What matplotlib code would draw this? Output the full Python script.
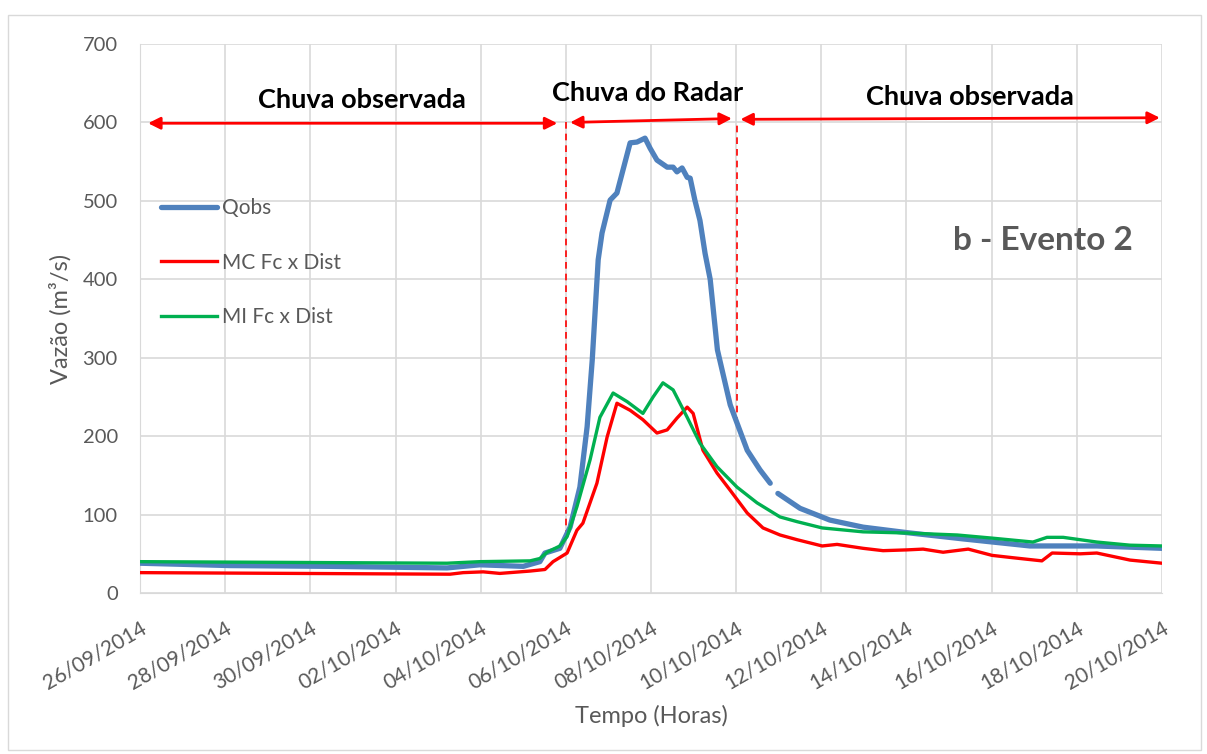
import numpy as np
import pandas as pd
import matplotlib
matplotlib.use('Agg')
import matplotlib.pyplot as plt
import matplotlib.dates as mdates
from matplotlib.patches import Rectangle

plt.rcParams['font.family'] = ['Lato', 'DejaVu Sans']

# data, days counted from 26/09/2014 00:00
start = pd.Timestamp('2014-09-26')

qobs_days = [0, 2.11, 4.46, 7.21, 7.98, 9.0, 9.39, 9.51, 9.86, 10.1, 10.33, 10.5, 10.62,
             10.76, 10.85, 11.04, 11.2, 11.51, 11.67, 11.86, 11.98, 12.14, 12.38, 12.52,
             12.61, 12.73, 12.85, 12.92, 13.03, 13.15, 13.27, 13.39, 13.56, 13.86, 14.26,
             14.56, 14.8, 14.9, 14.98, 15.5, 16.2, 16.98, 18.01, 19.33, 20.9, 22.47, 24.0]
qobs_vals = [38, 35, 34, 32, 36, 34, 40, 51, 57, 84, 135, 212, 297,
             425, 459, 501, 510, 574, 575, 580, 567, 552, 543, 543,
             537, 542, 530, 529, 501, 475, 433, 400, 310, 240, 182,
             157, 140, np.nan, 127, 108, 93, 84, 77, 69, 60, 60, 57]

mc_days = [0, 7.28, 7.59, 8.06, 8.45, 9.16, 9.51, 9.7, 10.03, 10.26, 10.4, 10.73, 10.97,
           11.2, 11.51, 11.81, 12.14, 12.38, 12.61, 12.85, 12.99, 13.22, 13.55, 13.86,
           14.26, 14.63, 15.03, 15.43, 16.02, 16.37, 16.98, 17.45, 18.01, 18.39, 18.86,
           19.45, 20.01, 20.5, 21.18, 21.42, 22.08, 22.47, 23.25, 24.0]
mc_vals = [26, 24, 26, 27, 25, 28, 30, 40, 51, 80, 89, 140, 199,
           242, 233, 221, 204, 208, 223, 237, 229, 182, 153, 131,
           102, 83, 74, 68, 60, 62, 57, 54, 55, 56, 52,
           56, 48, 45, 41, 51, 50, 51, 42, 38]

mi_days = [0, 7.21, 7.98, 9.16, 9.39, 9.56, 9.86, 10.03, 10.26, 10.57, 10.8, 11.11, 11.44,
           11.81, 12.05, 12.28, 12.52, 12.85, 13.15, 13.55, 14.02, 14.49, 15.03, 15.43,
           16.02, 16.98, 18.01, 19.19, 20.01, 20.97, 21.3, 21.68, 22.47, 23.25, 24.0]
mi_vals = [40, 38, 40, 41, 44, 52, 60, 72, 110, 170, 224, 255, 244,
           229, 250, 268, 259, 224, 191, 161, 135, 115, 97, 91,
           83, 78, 76.5, 74, 70, 65, 71, 71, 65, 61, 60]


def to_dates(days):
    return start + pd.to_timedelta(days, unit='D')


fig = plt.figure(figsize=(12.07, 7.54), dpi=100)
ax = fig.add_axes([0.116, 0.2135, 0.8467, 0.7281])
fig.patches.append(Rectangle((0.007, 0.005), 0.988, 0.975, transform=fig.transFigure,
                             fill=False, edgecolor='#d9d9d9', lw=1))

ax.plot(to_dates(qobs_days), qobs_vals, color='#4F81BD', lw=3.8, label='Qobs',
        solid_capstyle='round', zorder=3)
ax.plot(to_dates(mc_days), mc_vals, color='#FF0000', lw=2.4, label='MC Fc x Dist', zorder=4)
ax.plot(to_dates(mi_days), mi_vals, color='#00B050', lw=2.4, label='MI Fc x Dist', zorder=5)

# dashed separators and annotation arrows
ax.plot(to_dates([10.0, 10.0]), [72, 600], color='red', ls=(0, (4, 3)), lw=1.2, zorder=2)
ax.plot(to_dates([14.02, 14.02]), [215, 600], color='red', ls=(0, (4, 3)), lw=1.2, zorder=2)
for (d0, y0, d1, y1) in [(0.19, 599, 9.8, 599), (10.1, 600, 13.9, 605), (14.1, 604, 23.95, 606)]:
    ax.annotate('', xy=(to_dates([d1])[0], y1), xytext=(to_dates([d0])[0], y0),
                arrowprops=dict(arrowstyle='<|-|>', color='red', lw=2,
                                mutation_scale=18, shrinkA=0, shrinkB=0))

ax.text(to_dates([5.21])[0], 629, 'Chuva observada', ha='center', va='center',
        fontsize=19.5, fontweight='bold')
ax.text(to_dates([11.91])[0], 638, 'Chuva do Radar', ha='center', va='center',
        fontsize=19.5, fontweight='bold')
ax.text(to_dates([19.49])[0], 633, 'Chuva observada', ha='center', va='center',
        fontsize=19.5, fontweight='bold')
ax.text(to_dates([21.2])[0], 449, 'b - Evento 2', ha='center', va='center',
        fontsize=24, fontweight='bold', color='#595959')

ax.set_xlim(start, start + pd.Timedelta(days=24))
ax.set_ylim(0, 700)
ax.set_yticks(range(0, 701, 100))
ax.set_xticks(to_dates(list(range(0, 25, 2))))
ax.xaxis.set_major_formatter(mdates.DateFormatter('%d/%m/%Y'))
plt.setp(ax.get_xticklabels(), rotation=30, ha='right', rotation_mode='anchor')
ax.tick_params(axis='both', length=0, labelsize=14.5, colors='#595959')
ax.tick_params(axis='x', pad=18, labelsize=15)
ax.tick_params(axis='y', pad=16)

ax.grid(True, color='#d9d9d9', lw=1.2)
ax.set_axisbelow(True)
for s in ['top', 'right']:
    ax.spines[s].set_visible(False)
ax.spines['left'].set_color('#d9d9d9')
ax.spines['bottom'].set_color('#d9d9d9')

ax.set_xlabel('Tempo (Horas)', fontsize=17, color='#595959')
ax.set_ylabel('Vazão (m³/s)', fontsize=17, color='#595959')
ax.xaxis.set_label_coords(0.5, -0.224)
ax.xaxis.label.set_va('center')
ax.yaxis.set_label_coords(-0.078, 0.5)
ax.yaxis.label.set_va('center')

ax.legend(loc='upper left', bbox_to_anchor=(0.002, 0.753), frameon=False, fontsize=15,
          labelspacing=1.65, handlelength=2.7, handletextpad=0.25, labelcolor='#595959')

fig.savefig('out.png', dpi=100)
